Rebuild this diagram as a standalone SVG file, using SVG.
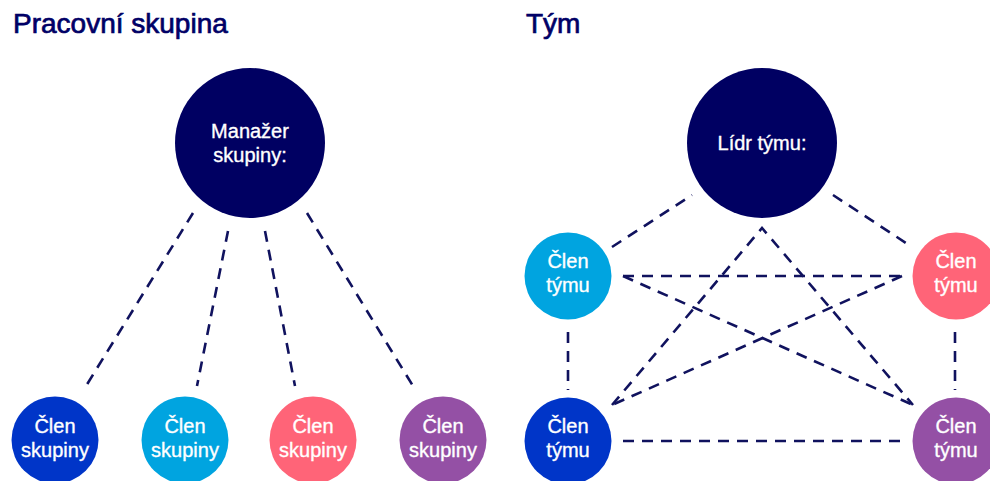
<svg xmlns="http://www.w3.org/2000/svg" width="990" height="481" viewBox="0 0 990 481">
<style>
.title{font-family:"Liberation Sans",Arial,sans-serif;font-size:28px;fill:#000066;stroke:#000066;stroke-width:0.7px;}
.lbl{font-family:"Liberation Sans",Arial,sans-serif;font-size:20px;fill:#ffffff;stroke:#ffffff;stroke-width:0.35px;text-anchor:middle;}
.c{stroke:#10125e;stroke-width:2.6;stroke-dasharray:11 8;fill:none;}
</style>
<rect width="990" height="481" fill="#ffffff"/>
<text class="title" x="13" y="33">Pracovní skupina</text>
<text class="title" x="526" y="33">Tým</text>
<g id="connectors">
<line class="c" x1="193" y1="213" x2="86" y2="386"/>
<line class="c" x1="228" y1="231" x2="197" y2="386"/>
<line class="c" x1="265" y1="231" x2="295" y2="386"/>
<line class="c" x1="307" y1="213" x2="413" y2="386"/>
<line class="c" x1="612" y1="247" x2="692" y2="195"/>
<line class="c" x1="833" y1="195" x2="912" y2="247"/>
<line class="c" x1="623" y1="276" x2="902" y2="276"/>
<line class="c" x1="623" y1="441" x2="902" y2="441"/>
<line class="c" x1="568" y1="332" x2="568" y2="390"/>
<line class="c" x1="955" y1="332" x2="955" y2="390"/>
<polyline class="c" points="612,405 762,228 913,405"/>
<line class="c" x1="623" y1="276" x2="913" y2="405"/>
<line class="c" x1="902" y1="276" x2="612" y2="405"/>
</g>
<g id="manazer">
<circle cx="250" cy="143" r="75" fill="#000062"/>
<text class="lbl" x="250" y="138">Manažer</text>
<text class="lbl" x="250" y="162">skupiny:</text>
</g>
<g id="clen-skupiny-1">
<circle cx="55" cy="440" r="43.5" fill="#0035c8"/>
<text class="lbl" x="55" y="433">Člen</text>
<text class="lbl" x="55" y="457">skupiny</text>
</g>
<g id="clen-skupiny-2">
<circle cx="185" cy="440" r="43.5" fill="#00a4e0"/>
<text class="lbl" x="185" y="433">Člen</text>
<text class="lbl" x="185" y="457">skupiny</text>
</g>
<g id="clen-skupiny-3">
<circle cx="313" cy="440" r="43.5" fill="#ff6478"/>
<text class="lbl" x="313" y="433">Člen</text>
<text class="lbl" x="313" y="457">skupiny</text>
</g>
<g id="clen-skupiny-4">
<circle cx="443" cy="440" r="43.5" fill="#9450a5"/>
<text class="lbl" x="443" y="433">Člen</text>
<text class="lbl" x="443" y="457">skupiny</text>
</g>
<g id="lidr">
<circle cx="762" cy="143" r="75" fill="#000062"/>
<text class="lbl" x="762" y="150">Lídr týmu:</text>
</g>
<g id="clen-tymu-1">
<circle cx="568" cy="276" r="43.5" fill="#00a4e0"/>
<text class="lbl" x="568" y="268">Člen</text>
<text class="lbl" x="568" y="292">týmu</text>
</g>
<g id="clen-tymu-2">
<circle cx="956" cy="276" r="43.5" fill="#ff6478"/>
<text class="lbl" x="956" y="268">Člen</text>
<text class="lbl" x="956" y="292">týmu</text>
</g>
<g id="clen-tymu-3">
<circle cx="568" cy="441" r="43.5" fill="#0035c8"/>
<text class="lbl" x="568" y="433">Člen</text>
<text class="lbl" x="568" y="457">týmu</text>
</g>
<g id="clen-tymu-4">
<circle cx="956" cy="441" r="43.5" fill="#9450a5"/>
<text class="lbl" x="956" y="433">Člen</text>
<text class="lbl" x="956" y="457">týmu</text>
</g>
</svg>
